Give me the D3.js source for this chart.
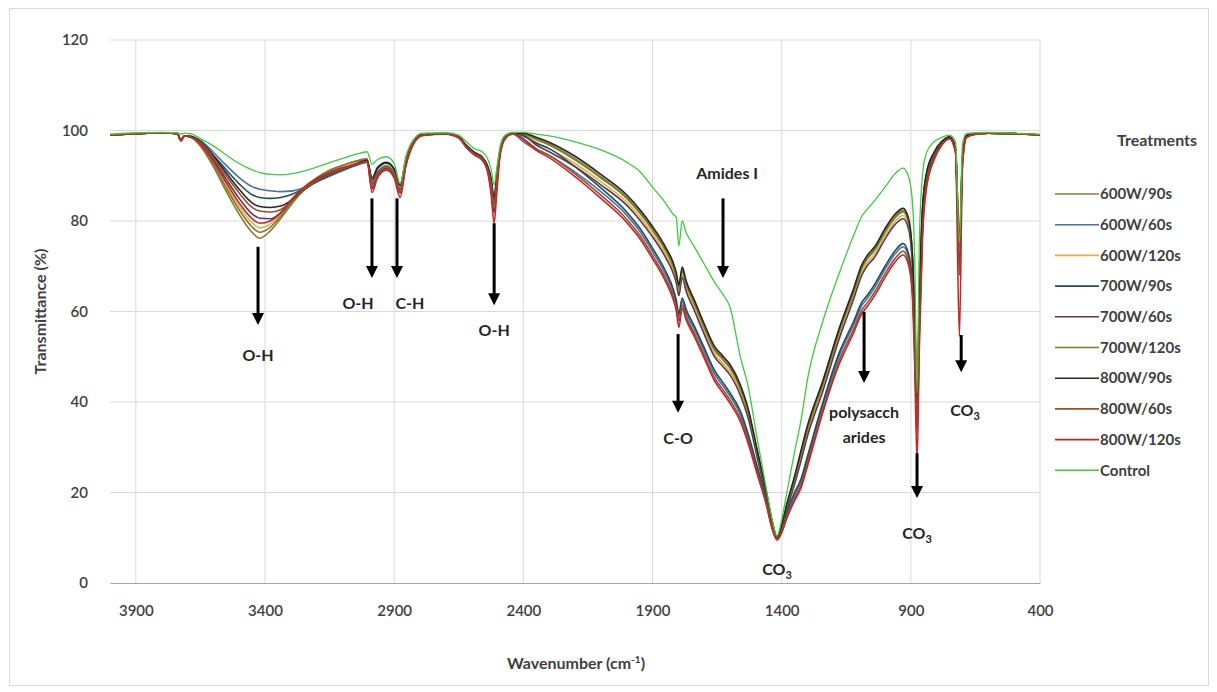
<!DOCTYPE html>
<html>
<head>
<meta charset="utf-8">
<script src="https://cdnjs.cloudflare.com/ajax/libs/d3/7.8.5/d3.min.js"></script>
<style>
  body { margin: 0; background: #fff; }
  svg text { font-family: Lato, "Open Sans", sans-serif; }
</style>
</head>
<body>
<div id="chart"></div>
<script>
// FTIR spectra, wavenumber (cm-1) vs transmittance (%)
var wavenumbers = [4000, 3900, 3800, 3740, 3725, 3712, 3690,
  3650, 3600, 3550, 3500, 3450, 3420, 3380, 3340, 3300, 3250, 3200, 3150, 3100, 3050, 3005,
  2985, 2965, 2930, 2900, 2877, 2855, 2825, 2790,
  2700, 2650, 2620, 2590, 2560, 2540, 2525, 2513, 2503, 2490, 2470, 2440,
  2400, 2350, 2300, 2200, 2100, 2000, 1950, 1900, 1850, 1820,
  1808, 1798, 1785, 1770, 1740, 1700, 1660, 1630, 1600, 1560, 1530, 1495, 1460, 1435, 1418,
  1400, 1380, 1350, 1325, 1300, 1240, 1180, 1120, 1090, 1070, 1040, 1000, 960, 930, 910, 895,
  885, 876, 867, 855, 840, 810, 780, 750, 727, 712, 700, 685, 650, 600, 500, 400];

var t600w90 = [99.0, 99.3, 99.5, 99.3, 97.8, 98.8, 98.6,
  96.5, 92, 86.5, 81.5, 77.5, 76.2, 77.8, 80.5, 83.5, 86.8, 89.2, 91, 92.2, 93.2, 93.8,
  87.5, 90.2, 91.8, 90.2, 86.5, 92.5, 97.3, 99,
  99.3, 98.5, 96.3, 94.8, 93.8, 91.5, 87.5, 82.5, 88.5, 95, 98.5, 99.4,
  99.3, 98.2, 97.1, 93.8, 89.8, 85.3, 82.1, 78.3, 73.8, 70.3,
  68.1, 65.3, 69.3, 66.3, 62.3, 56.8, 51.8, 49.8, 47.8, 43.3, 38.2, 29.2, 20.1, 13, 10,
  12.6, 17.2, 23.3, 28.8, 34.3, 44.3, 55.3, 64.8, 69.8, 71.8, 73.8, 77.8, 81.1, 82.3, 80.3, 73.3,
  58, 38.5, 62.3, 82.3, 90.2, 95.1, 97.5, 98.5, 96, 71, 94, 98.8, 99.3, 99.4, 99.3, 99];

var t600w60 = [99.0, 99.3, 99.5, 99.3, 97.9, 98.8, 98.7,
  97.8, 95.2, 92.3, 89.6, 87.6, 87, 86.7, 86.5, 86.6, 87.4, 88.6, 89.9, 91.1, 92.2, 93,
  88.5, 90.8, 92, 90.5, 87.2, 93, 97.5, 99,
  99.2, 98.3, 96.2, 94.7, 93.6, 91.6, 88.5, 84, 89.5, 95.3, 98.3, 99.2,
  97.5, 95.8, 94.5, 90.8, 86.5, 81.3, 77.8, 73.3, 68.3, 64.3,
  61.8, 58.8, 62.3, 59.8, 56.3, 51.3, 46.3, 43.8, 41.3, 37.3, 32.2, 25.2, 18.1, 12, 9.8,
  11.6, 15.2, 19.3, 22.3, 27.3, 39.3, 49.8, 57.3, 61.3, 62.8, 65.3, 69.3, 72.8, 74.3, 72.3, 66.3,
  52.3, 36, 56.3, 78.3, 88.2, 94.1, 97, 98.3, 95.5, 72, 93, 98.6, 99.2, 99.4, 99.3, 99];

var t600w120 = [99.0, 99.3, 99.5, 99.3, 97.7, 98.8, 98.6,
  97, 93, 88, 83.3, 79.6, 78.5, 79.3, 81.5, 84.5, 87.5, 89.6, 91.1, 92.2, 93, 93.5,
  87, 89.8, 91.5, 89.8, 86, 92.3, 97.2, 98.9,
  99.3, 98.5, 96.5, 95, 94, 92, 86.8, 81.5, 87.5, 94.8, 98.4, 99.4,
  99.2, 97.4, 96, 92.7, 88.7, 84.2, 81, 77.2, 72.7, 69.2,
  67, 64.2, 68.2, 65.2, 61.2, 55.7, 50.7, 48.7, 46.7, 42.2, 37.2, 28.4, 19.6, 12.8, 9.9,
  12.3, 16.6, 22.4, 27.7, 33.2, 43.2, 54.2, 63.7, 68.7, 70.7, 72.7, 76.7, 80, 81.2, 79.2, 72.2,
  57, 39, 61.2, 81.2, 89.6, 94.8, 97.4, 98.4, 96, 74, 94, 98.8, 99.3, 99.4, 99.3, 99];

var t700w90 = [99.0, 99.3, 99.5, 99.3, 97.9, 98.8, 98.7,
  97.6, 94.6, 91.3, 88.2, 85.8, 85.2, 85, 85.2, 85.8, 87.2, 88.8, 90.2, 91.4, 92.6, 93.5,
  89, 91.5, 92.8, 91.3, 87.8, 93.3, 97.6, 99,
  99.3, 98.5, 96.6, 95.1, 94.1, 92.3, 89, 84.5, 90, 95.5, 98.5, 99.4,
  98.8, 97.2, 96, 92, 87.3, 82, 78.5, 74, 69, 65,
  62.5, 59.5, 63, 60.5, 57, 52, 47, 44.5, 42, 38, 33, 25.8, 18.6, 12.3, 9.8,
  11.8, 15.7, 20, 23, 28, 40, 50.5, 58, 62, 63.5, 66, 70, 73.5, 75, 73, 67,
  53, 37, 57, 79, 88.5, 94.3, 97.1, 98.4, 95.6, 70, 93.2, 98.6, 99.2, 99.4, 99.3, 99];

var t700w60 = [99.0, 99.3, 99.5, 99.3, 97.8, 98.8, 98.6,
  97.2, 93.6, 89.2, 85, 81.6, 80.6, 80.5, 81.8, 84.3, 87, 89, 90.5, 91.5, 92.4, 93,
  87.2, 90, 91.6, 90, 86.3, 92.4, 97.2, 98.9,
  99.3, 98.5, 96.4, 94.9, 93.9, 91.8, 87.3, 82, 88, 95, 98.4, 99.4,
  99, 96.8, 95.3, 92, 88, 83.5, 80.3, 76.5, 72, 68.5,
  66.3, 63.5, 67.5, 64.5, 60.5, 55, 50, 48, 46, 41.5, 36.5, 27.8, 19.2, 12.6, 9.9,
  12.1, 16.3, 21.8, 27, 32.5, 42.5, 53.5, 63, 68, 70, 72, 76, 79.3, 80.5, 78.5, 71.5,
  56, 37, 60.5, 80.5, 89.3, 94.7, 97.3, 98.4, 96, 72, 94, 98.8, 99.3, 99.4, 99.3, 99];

var t700w120 = [99.0, 99.3, 99.5, 99.3, 97.8, 98.8, 98.6,
  96.8, 92.6, 87.3, 82.5, 78.7, 77.5, 78.6, 81, 84, 87.2, 89.5, 91.2, 92.3, 93.2, 93.6,
  88, 90.5, 92, 90.4, 86.8, 92.8, 97.4, 99,
  99.3, 98.5, 96.5, 95, 94, 92, 87.8, 83, 89, 95.2, 98.5, 99.4,
  99.3, 98, 96.8, 93.5, 89.5, 85, 81.8, 78, 73.5, 70,
  67.8, 65, 69, 66, 62, 56.5, 51.5, 49.5, 47.5, 43, 38, 29, 20, 13, 10,
  12.5, 17, 23, 28.5, 34, 44, 55, 64.5, 69.5, 71.5, 73.5, 77.5, 80.8, 82, 80, 73,
  58, 38, 62, 82, 90, 95, 97.5, 98.5, 96, 73, 94, 98.8, 99.3, 99.4, 99.3, 99];

var t800w90 = [99.0, 99.3, 99.5, 99.3, 97.9, 98.8, 98.7,
  97.5, 94.3, 90.6, 87, 84, 83.2, 83, 83.3, 84.5, 86.8, 88.7, 90.2, 91.4, 92.5, 93.4,
  89.5, 91.8, 93, 91.5, 88, 93.5, 97.7, 99.1,
  99.3, 98.6, 96.7, 95.2, 94.2, 92.4, 89.5, 85, 90.5, 95.6, 98.6, 99.4,
  99.4, 98.5, 97.4, 94.3, 90.3, 85.8, 82.6, 78.8, 74.3, 70.8,
  68.6, 65.8, 69.8, 66.8, 62.8, 57.3, 52.3, 50.3, 48.3, 43.8, 38.6, 29.5, 20.3, 13.2, 10.1,
  12.8, 17.5, 23.6, 29.3, 34.8, 44.8, 55.8, 65.3, 70.3, 72.3, 74.3, 78.3, 81.6, 82.8, 80.8, 73.8,
  59, 40, 63, 82.8, 90.4, 95.2, 97.6, 98.6, 96.2, 75, 94.2, 98.9, 99.3, 99.4, 99.3, 99];

var t800w60 = [99.0, 99.3, 99.5, 99.3, 97.8, 98.8, 98.6,
  97.4, 94, 90, 86.2, 83, 82.2, 82, 82.5, 84.2, 86.8, 88.8, 90.3, 91.5, 92.5, 93.2,
  88.3, 90.6, 92.2, 90.6, 87, 92.9, 97.4, 99,
  99.3, 98.5, 96.4, 94.9, 93.9, 91.8, 88.3, 83.5, 89, 95.2, 98.4, 99.4,
  98.2, 96, 94.5, 90.4, 85.7, 80.4, 76.9, 72.4, 67.4, 63.4,
  60.9, 57.9, 61.4, 58.9, 55.4, 50.4, 45.4, 42.9, 40.4, 36.4, 31.5, 24.6, 17.7, 11.8, 9.7,
  11.3, 14.6, 18.6, 21.6, 26.5, 38.4, 48.8, 56.3, 60.3, 61.8, 64.3, 68.3, 71.8, 73.3, 71.3, 65.3,
  51.5, 33, 55.3, 77.3, 87.6, 93.8, 96.9, 98.2, 95.4, 68, 92.8, 98.5, 99.2, 99.4, 99.3, 99];

var t800w120 = [99.0, 99.3, 99.5, 99.3, 97.7, 98.8, 98.6,
  97, 93.2, 88.5, 84, 80.5, 79.5, 80, 81.8, 84.6, 87.4, 89.4, 90.8, 91.8, 92.6, 93,
  86.3, 89.5, 91.2, 89.5, 85.2, 92, 97, 98.9,
  99.3, 98.4, 96.2, 94.6, 93.5, 91.2, 86, 79.5, 86, 94.5, 98.2, 99.3,
  98, 95.6, 94, 89.8, 85, 79.7, 76.2, 71.7, 66.7, 62.7,
  60.2, 56.5, 60.7, 58.2, 54.7, 49.7, 44.7, 42.2, 39.7, 35.7, 30.9, 24.1, 17.4, 11.6, 9.5,
  11.1, 14.3, 18.2, 21, 25.8, 37.8, 48, 55.5, 59.5, 61, 63.5, 67.5, 71, 72.5, 70.5, 64.5,
  48, 27, 52, 76, 87, 93.5, 96.8, 98.2, 95, 54.5, 92, 98.4, 99.2, 99.4, 99.3, 99];

var tControl = [99.2, 99.5, 99.6, 99.5, 99.2, 99.4, 99.3,
  98.2, 96.6, 94.6, 92.7, 91.3, 90.7, 90.3, 90.2, 90.4, 91, 91.9, 92.9, 93.8, 94.7, 95.3,
  92.5, 93.6, 94.2, 92.7, 88.2, 94.2, 98, 99.4,
  99.5, 99, 97.5, 96, 95.3, 94, 91.5, 88, 91.5, 96.5, 99, 99.6,
  99.6, 99.2, 98.8, 97.5, 95.7, 93, 91, 87.5, 84, 81.5,
  80.8, 74.5, 80, 77.5, 74.5, 70.5, 66.5, 64, 61, 50, 43.5, 32, 21, 13.5, 10.3,
  14, 20, 29, 36, 45, 58, 68, 77, 81, 82.5, 84.5, 87.5, 90.5, 91.7, 90, 85,
  72, 42, 76, 90, 95, 97.5, 98.5, 99, 97.5, 75, 97, 99.3, 99.5, 99.6, 99.4, 99.2];

var seriesNames = ['600W/90s', '600W/60s', '600W/120s', '700W/90s', '700W/60s',
  '700W/120s', '800W/90s', '800W/60s', '800W/120s', 'Control'];
var seriesValues = [t600w90, t600w60, t600w120, t700w90, t700w60,
  t700w120, t800w90, t800w60, t800w120, tControl];

var xTicks = [3900, 3400, 2900, 2400, 1900, 1400, 900, 400];
var yTicks = [0, 20, 40, 60, 80, 100, 120];

// band labels: arrow at wn from t0 down to t1, text centred at (lx, ly)
var bands = [
  {text: 'O-H', wn: 3427, t0: 74.3, t1: 57, lx: 3427, ly: 50.4},
  {text: 'O-H', wn: 2986, t0: 85, t1: 67.4, lx: 3040, ly: 61.9},
  {text: 'C-H', wn: 2889, t0: 85, t1: 67.4, lx: 2839, ly: 61.9},
  {text: 'O-H', wn: 2513, t0: 79.5, t1: 61.4, lx: 2513, ly: 55.9},
  {text: 'C-O', wn: 1801, t0: 55, t1: 37.6, lx: 1801, ly: 32},
  {text: 'Amides I', wn: 1627, t0: 85, t1: 67.4, lx: 1611, ly: 90.6},
  {text: 'CO3', lx: 1418, ly: 2.9},
  {text: 'polysacch|arides', wn: 1081, t0: 59.9, t1: 44.2, lx: 1081, ly: 37.6},
  {text: 'CO3', wn: 876, t0: 28.7, t1: 18.8, lx: 876, ly: 11},
  {text: 'CO3', wn: 705, t0: 54.8, t1: 46.6, lx: 690, ly: 38.2}
];

var colors = ['#8c7a3c', '#4a6fa5', '#e2b13c', '#1f4e5a', '#5b3a55',
  '#7a7a30', '#262626', '#9a4f2a', '#c0282d', '#3ccc3c'];

var width = 1217, height = 692;
var margin = {top: 40, left: 110, right: 177, bottom: 109};

var x = d3.scaleLinear().domain([4000, 400]).range([margin.left, width - margin.right]);
var y = d3.scaleLinear().domain([0, 120]).range([height - margin.bottom, margin.top]);

var svg = d3.select('#chart').append('svg')
  .attr('width', width)
  .attr('height', height);

svg.append('rect')
  .attr('x', 9.5).attr('y', 8.5)
  .attr('width', 1199).attr('height', 677)
  .attr('fill', '#fff')
  .attr('stroke', '#d9d9d9');

// grid
svg.append('g').selectAll('line.h')
  .data(yTicks.filter(function (v) { return v > 0; }))
  .enter().append('line')
  .attr('x1', x(4000)).attr('x2', x(400))
  .attr('y1', function (v) { return y(v); }).attr('y2', function (v) { return y(v); })
  .attr('stroke', '#d9d9d9');

svg.append('g').selectAll('line.v')
  .data(xTicks)
  .enter().append('line')
  .attr('x1', function (v) { return x(v); }).attr('x2', function (v) { return x(v); })
  .attr('y1', y(120)).attr('y2', y(0))
  .attr('stroke', '#d9d9d9');

var xAxis = svg.append('g')
  .attr('transform', 'translate(0,' + y(0) + ')')
  .call(d3.axisBottom(x).tickValues(xTicks).tickFormat(d3.format('d')).tickSize(0).tickPadding(22));
xAxis.select('.domain').attr('stroke', '#a6a6a6').attr('stroke-width', 1.2);

var yAxis = svg.append('g')
  .attr('transform', 'translate(' + (x(4000) - 4) + ',0)')
  .call(d3.axisLeft(y).tickValues(yTicks).tickFormat(d3.format('d')).tickSize(0).tickPadding(18));
yAxis.select('.domain').remove();

svg.selectAll('.tick text')
  .attr('fill', '#404040')
  .style('font-size', '15px')
  .style('font-weight', '600');

// spectra
var line = d3.line()
  .x(function (d) { return x(d[0]); })
  .y(function (d) { return y(d[1]); })
  .curve(d3.curveMonotoneX);

svg.append('g').selectAll('path')
  .data(seriesValues)
  .enter().append('path')
  .attr('d', function (vals) {
    return line(vals.map(function (v, i) { return [wavenumbers[i], v]; }));
  })
  .attr('fill', 'none')
  .attr('stroke', function (d, i) { return colors[i]; })
  .attr('stroke-width', function (d, i) { return i === 9 ? 1.3 : 1.6; })
  .attr('stroke-linejoin', 'round');

// arrows + band labels
var ann = svg.append('g');
bands.forEach(function (b) {
  if (b.wn !== undefined) {
    var ax = x(b.wn), ya = y(b.t0), yb = y(b.t1);
    ann.append('line')
      .attr('x1', ax).attr('x2', ax)
      .attr('y1', ya).attr('y2', yb - 10)
      .attr('stroke', '#000').attr('stroke-width', 3);
    ann.append('path')
      .attr('d', 'M' + (ax - 6) + ',' + (yb - 12) + 'L' + (ax + 6) + ',' + (yb - 12) + 'L' + ax + ',' + yb + 'Z')
      .attr('fill', '#000');
  }
  var t = ann.append('text')
    .attr('x', x(b.lx)).attr('y', y(b.ly))
    .attr('text-anchor', 'middle')
    .attr('dy', '0.35em')
    .attr('fill', '#262626')
    .style('font-size', '16px')
    .style('font-weight', '700');
  if (b.text === 'CO3') {
    t.append('tspan').text('CO');
    t.append('tspan').text('3').attr('dy', 4).style('font-size', '11px');
  } else if (b.text.indexOf('|') > -1) {
    var parts = b.text.split('|');
    t.append('tspan').text(parts[0]);
    t.append('tspan').text(parts[1]).attr('x', x(b.lx)).attr('dy', 25);
  } else {
    t.text(b.text);
  }
});

// axis titles
svg.append('text')
  .attr('transform', 'translate(40,' + y(60) + ') rotate(-90)')
  .attr('text-anchor', 'middle')
  .attr('dy', '0.35em')
  .attr('fill', '#404040')
  .style('font-size', '16px')
  .style('font-weight', '700')
  .text('Transmittance (%)');

var xt = svg.append('text')
  .attr('x', (x(4000) + x(400)) / 2 + 1)
  .attr('y', 669)
  .attr('text-anchor', 'middle')
  .attr('fill', '#404040')
  .style('font-size', '16px')
  .style('font-weight', '700');
xt.append('tspan').text('Wavenumber (cm');
xt.append('tspan').text('-1').attr('dy', -6).style('font-size', '10px');
xt.append('tspan').text(')').attr('dy', 6);

// legend
var lg = svg.append('g');
lg.append('text')
  .attr('x', 1117).attr('y', 140)
  .attr('dy', '0.35em')
  .attr('fill', '#404040')
  .style('font-size', '16px')
  .style('font-weight', '700')
  .text('Treatments');

seriesNames.forEach(function (name, i) {
  var ly = 194 + i * 30.7;
  lg.append('line')
    .attr('x1', 1055).attr('x2', 1099)
    .attr('y1', ly).attr('y2', ly)
    .attr('stroke', colors[i]).attr('stroke-width', 1.6);
  lg.append('text')
    .attr('x', 1100).attr('y', ly)
    .attr('dy', '0.35em')
    .attr('fill', '#404040')
    .style('font-size', '15px')
    .style('font-weight', '700')
    .text(name);
});
</script>
</body>
</html>
